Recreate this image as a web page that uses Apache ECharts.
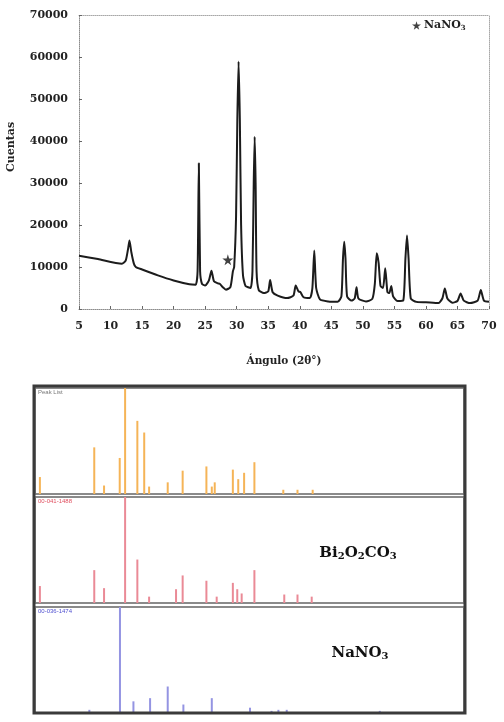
<!DOCTYPE html>
<html><head><meta charset="utf-8">
<script src="https://cdn.jsdelivr.net/npm/echarts@6/dist/echarts.min.js"></script>
<style>html,body{margin:0;padding:0;background:#fff}#c{width:504px;height:722px}</style>
</head><body><div id="c"></div>
<script>
// ---- Top XRD pattern (2θ, counts) ----
const angles = [5, 8, 11.8, 12.4, 12.8, 13.0, 13.3, 13.7, 14.0, 15, 17.5, 20, 22.5, 23.5, 23.8, 24.0, 24.2, 24.5, 25, 25.6, 26.0, 26.4, 27.0, 27.3, 27.8, 28.3, 29.0, 29.4, 29.6, 29.9, 30.1, 30.3, 30.5, 30.7, 31.0, 31.4, 32.2, 32.5, 32.7, 32.85, 33.0, 33.15, 33.5, 34.3, 35.0, 35.3, 35.7, 36.5, 38, 39.0, 39.35, 39.8, 40.1, 40.6, 41.6, 42.0, 42.3, 42.6, 43.2, 44.5, 46.0, 46.6, 46.85, 47.05, 47.25, 47.5, 48.2, 48.7, 49.0, 49.3, 50.5, 51.5, 51.9, 52.2, 52.5, 52.8, 53.2, 53.55, 53.9, 54.2, 54.5, 54.8, 55.5, 56.4, 56.75, 57.0, 57.25, 57.6, 58.5, 60, 62, 62.6, 63.0, 63.4, 64.2, 65.0, 65.5, 66.0, 67.0, 68.2, 68.7, 69.2, 70];
const counts = [12700, 11900, 10800, 11500, 14500, 16300, 13500, 10800, 10000, 9400, 8000, 6800, 5900, 5800, 9000, 34700, 9000, 6000, 5600, 6800, 9100, 6600, 6100, 6000, 5200, 4600, 5200, 9000, 10000, 22000, 45000, 58900, 45000, 20000, 8000, 5500, 5000, 9000, 30000, 41000, 30000, 9000, 4500, 3800, 4200, 6900, 4000, 3200, 2600, 3200, 5600, 4200, 4000, 2800, 2600, 5000, 13900, 5000, 2300, 1800, 1700, 3000, 12000, 16000, 12000, 3000, 2000, 2500, 5200, 2500, 1800, 2400, 6000, 13300, 11000, 5500, 5000, 9700, 4000, 3800, 5500, 3000, 1900, 2000, 12000, 17500, 12000, 2500, 1700, 1600, 1400, 2500, 4900, 2500, 1500, 1900, 3700, 2000, 1400, 2000, 4500, 2000, 1700];
const starMark = [[28.6, 11700]];
const xTickLabels = ['5','10','15','20','25','30','35','40','45','50','55','60','65','70'];
const yTickLabels = ['0','10000','20000','30000','40000','50000','60000','70000'];

// ---- Reference stick patterns (2θ, relative intensity %) ----
const peakListAngles = [12.9, 24.0, 26.0, 29.2, 30.3, 32.8, 34.2, 35.2, 39.0, 42.05, 46.9, 48.0, 48.6, 52.3, 53.4, 54.6, 56.7, 62.6, 65.5, 68.6];
const peakListInt    = [16, 44, 8, 34, 100, 69, 58, 7, 11, 22, 26, 7, 11, 23, 14, 20, 30, 4, 4, 4];
const bi2o2co3Angles = [12.9, 24.0, 26.0, 30.3, 32.8, 35.2, 40.7, 42.05, 46.9, 49.0, 52.3, 53.2, 54.1, 56.7, 62.8, 65.5, 68.4];
const bi2o2co3Int    = [16, 31, 14, 100, 41, 6, 13, 26, 21, 6, 19, 13, 9, 31, 8, 8, 6];
const nano3Angles = [23.0, 29.25, 32.0, 35.4, 39.0, 42.2, 48.0, 55.8, 60.2, 61.6, 63.3, 82.3];
const nano3Int    = [3, 100, 11, 14, 25, 8, 14, 5, 2, 3, 3, 2];
const panelCodes = ['Peak List', '00-041-1488', '00-036-1474'];

const zip = (a, b) => a.map((v, i) => [v, b[i]]);
const SERIF = '"DejaVu Serif", "Liberation Serif", serif';
const STAR = 'path://M50,0 L61,35 L98,35 L68,57 L79,91 L50,70 L21,91 L32,57 L2,35 L39,35 Z';

const chart = echarts.init(document.getElementById('c'), null, {renderer: 'canvas'});

const panelTops = [388, 497, 607];
const panelH = 106;
const panelGrids = panelTops.map(t => ({left: 35, width: 429, top: t, height: panelH, show: true, borderColor: '#8a8a8a', borderWidth: 2, backgroundColor: '#fff'}));

const panelX = [0,1,2].map(i => ({gridIndex: i + 1, type: 'value', min: 11.9, max: 99.5, show: false}));
const panelY = [0,1,2].map(i => ({gridIndex: i + 1, type: 'value', min: 0, max: 100, show: false}));

const stickColors = ['#f5b457', '#ea8a96', '#9494e2'];
const stickData = [zip(peakListAngles, peakListInt), zip(bi2o2co3Angles, bi2o2co3Int), zip(nano3Angles, nano3Int)];

const option = {
  animation: false,
  backgroundColor: '#fff',
  grid: [{left: 79, top: 15, width: 410, height: 294}].concat(panelGrids),
  xAxis: [
    {gridIndex: 0, type: 'value', min: 5, max: 70, interval: 5,
      axisLine: {show: true, onZero: false, lineStyle: {color: '#8c8c8c', width: 1, type: 'dotted'}},
      axisTick: {show: true, inside: true, length: 3, lineStyle: {color: '#666'}},
      splitLine: {show: false},
      axisLabel: {margin: 12, color: '#222', fontFamily: SERIF, fontWeight: 'bold', fontSize: 11,
        formatter: v => xTickLabels[Math.round((v - 5) / 5)]},
      name: 'Ángulo (2θ°)', nameLocation: 'middle', nameGap: 47,
      nameTextStyle: {color: '#222', fontFamily: SERIF, fontWeight: 'bold', fontSize: 10.5}},
    {gridIndex: 0, type: 'value', min: 5, max: 70, position: 'top',
      axisLine: {show: true, onZero: false, lineStyle: {color: '#a8a8a8', width: 1, type: 'dotted'}},
      axisTick: {show: false}, axisLabel: {show: false}, splitLine: {show: false}}
  ].concat(panelX),
  yAxis: [
    {gridIndex: 0, type: 'value', min: 0, max: 70000, interval: 10000,
      axisLine: {show: true, onZero: false, lineStyle: {color: '#8c8c8c', width: 1, type: 'dotted'}},
      axisTick: {show: true, inside: true, length: 3, lineStyle: {color: '#666'}},
      splitLine: {show: false},
      axisLabel: {margin: 11, color: '#222', fontFamily: SERIF, fontWeight: 'bold', fontSize: 11,
        formatter: v => yTickLabels[Math.round(v / 10000)]}},
    {gridIndex: 0, type: 'value', min: 0, max: 70000, position: 'right',
      axisLine: {show: true, onZero: false, lineStyle: {color: '#a8a8a8', width: 1, type: 'dotted'}},
      axisTick: {show: false}, axisLabel: {show: false}, splitLine: {show: false}}
  ].concat(panelY),
  legend: {
    left: 412, top: 20, itemWidth: 9, itemHeight: 9, itemGap: 0, padding: 0,
    selectedMode: false,
    data: [{name: 'NaNO3', icon: STAR, itemStyle: {color: '#111'}}],
    formatter: () => '{a|NaNO}{s|3}',
    textStyle: {color: '#222', padding: [0, 0, 0, -2],
      rich: {a: {fontFamily: SERIF, fontWeight: 'bold', fontSize: 11, color: '#222'},
             s: {fontFamily: SERIF, fontWeight: 'bold', fontSize: 7, color: '#222', verticalAlign: 'bottom', padding: [5, 0, 0, 0]}}}
  },
  series: [
    {type: 'line', name: 'XRD', xAxisIndex: 0, yAxisIndex: 0, data: zip(angles, counts),
      showSymbol: false, smooth: 0.2, lineStyle: {color: '#1c1c1c', width: 2}, silent: true, z: 3},
    {type: 'scatter', name: 'NaNO3', xAxisIndex: 0, yAxisIndex: 0, data: starMark,
      symbol: STAR, symbolSize: 11, itemStyle: {color: '#111'}, z: 4}
  ].concat(stickData.map((d, i) => ({
    type: 'bar', name: 'p' + i, xAxisIndex: i + 2, yAxisIndex: i + 2, data: d,
    barWidth: 2, itemStyle: {color: stickColors[i]}, silent: true
  }))),
  graphic: [
    {type: 'text', x: 11, y: 147, rotation: Math.PI / 2,
      style: {text: 'Cuentas', font: 'bold 11px ' + SERIF, fill: '#222', align: 'center', verticalAlign: 'middle'}},
    {type: 'rect', shape: {x: 34, y: 386, width: 431, height: 327}, z: 100,
      style: {fill: 'none', stroke: '#3a3a3a', lineWidth: 3}},
    {type: 'text', x: 38, y: 389, style: {text: panelCodes[0], font: '6px sans-serif', fill: '#777'}},
    {type: 'text', x: 38, y: 498, style: {text: panelCodes[1], font: '6px sans-serif', fill: '#e05060'}},
    {type: 'text', x: 38, y: 608, style: {text: panelCodes[2], font: '6px sans-serif', fill: '#5050d0'}},
    {type: 'text', x: 358, y: 553,
      style: {text: '{a|Bi}{s|2}{a|O}{s|2}{a|CO}{s|3}', align: 'center', verticalAlign: 'middle',
        rich: {a: {fontFamily: SERIF, fontWeight: 'bold', fontSize: 15, fill: '#111', lineHeight: 20},
               s: {fontFamily: SERIF, fontWeight: 'bold', fontSize: 10, fill: '#111', lineHeight: 20, padding: [7, 0, 0, 0]}}}},
    {type: 'text', x: 360, y: 653,
      style: {text: '{a|NaNO}{s|3}', align: 'center', verticalAlign: 'middle',
        rich: {a: {fontFamily: SERIF, fontWeight: 'bold', fontSize: 15, fill: '#111', lineHeight: 20},
               s: {fontFamily: SERIF, fontWeight: 'bold', fontSize: 10, fill: '#111', lineHeight: 20, padding: [7, 0, 0, 0]}}}}
  ]
};
chart.setOption(option);
</script>
</body></html>
